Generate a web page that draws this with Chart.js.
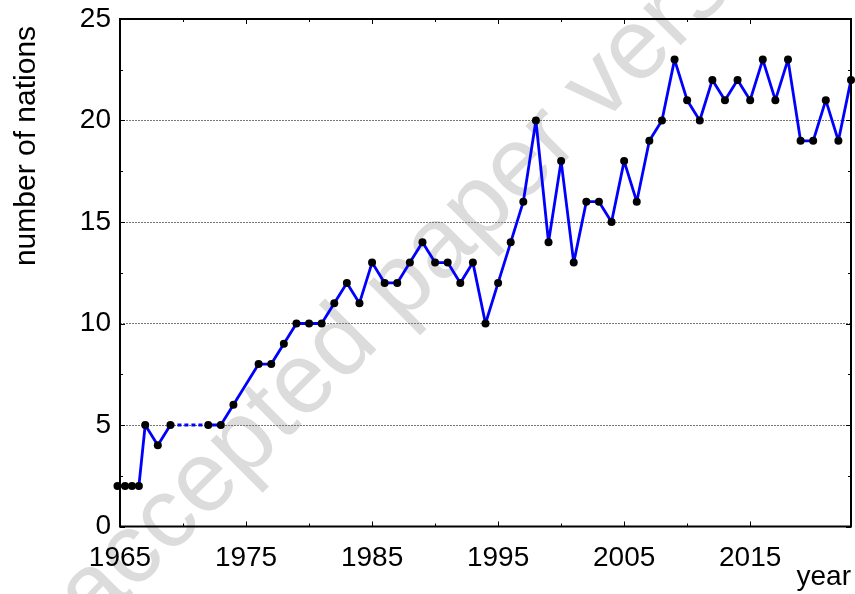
<!DOCTYPE html>
<html>
<head>
<meta charset="utf-8">
<script src="https://cdn.jsdelivr.net/npm/chart.js@4/dist/chart.umd.min.js"></script>
<style>
  html, body { margin: 0; padding: 0; background: #fff; }
  #wrap { width: 855px; height: 594px; }
</style>
</head>
<body>
<div id="wrap"><canvas id="chart" width="855" height="594"></canvas></div>
<script>
// data
const years = [1964.8, 1965.4, 1965.95, 1966.5, 1967, 1968, 1969, 1972, 1973, 1974,
  1976, 1977, 1978, 1979, 1980, 1981, 1982, 1983, 1984, 1985, 1986, 1987, 1988, 1989,
  1990, 1991, 1992, 1993, 1994, 1995, 1996, 1997, 1998, 1999, 2000, 2001, 2002, 2003,
  2004, 2005, 2006, 2007, 2008, 2009, 2010, 2011, 2012, 2013, 2014, 2015, 2016, 2017,
  2018, 2019, 2020, 2021, 2022, 2023];
const nations = [2, 2, 2, 2, 5, 4, 5, 5, 5, 6,
  8, 8, 9, 10, 10, 10, 11, 12, 11, 13, 12, 12, 13, 14,
  13, 13, 12, 13, 10, 12, 14, 16, 20, 14, 18, 13, 16, 16,
  15, 18, 16, 19, 20, 23, 21, 20, 22, 21, 22, 21, 23, 21,
  23, 19, 19, 21, 19, 22];
const xLabelYears = [1965, 1975, 1985, 1995, 2005, 2015];
const yLabels = [0, 5, 10, 15, 20, 25];

const FONT = "'Liberation Sans', Arial, sans-serif";

const frame = {
  id: 'frame',
  beforeDraw(chart) {
    const c = chart.ctx;
    c.save();
    c.translate(94, 632);
    c.rotate(-45 * Math.PI / 180);
    c.font = '100px ' + FONT;
    c.fillStyle = '#dcdcdc';
    c.fillText('accepted paper version', 0, 0);
    c.restore();
  },
  afterDraw(chart) {
    const c = chart.ctx;
    const a = chart.chartArea;
    const xs = chart.scales.x, ys = chart.scales.y;
    c.save();
    c.strokeStyle = '#000';
    c.lineWidth = 1;
    // inward ticks
    c.beginPath();
    xs.ticks.forEach(t => {
      const px = Math.round(xs.getPixelForValue(t.value)) + 0.5;
      const len = (t.value - 1965) % 10 === 0 ? 5 : 3;
      c.moveTo(px, a.bottom); c.lineTo(px, a.bottom - len);
      c.moveTo(px, a.top); c.lineTo(px, a.top + len);
    });
    ys.ticks.forEach(t => {
      const py = Math.round(ys.getPixelForValue(t.value)) + 0.5;
      const len = t.value % 5 === 0 ? 5 : 3;
      c.moveTo(a.left, py); c.lineTo(a.left + len, py);
      c.moveTo(a.right, py); c.lineTo(a.right - len, py);
    });
    c.stroke();
    c.lineWidth = 2;
    c.strokeRect(a.left, a.top, a.right - a.left, a.bottom - a.top);
    // axis titles
    c.fillStyle = '#000';
    c.font = '28px ' + FONT;
    c.textAlign = 'right';
    c.textBaseline = 'alphabetic';
    c.fillText('year', a.right, 585);
    c.font = '30px ' + FONT;
    c.translate(35, 146);
    c.rotate(-Math.PI / 2);
    c.textAlign = 'center';
    c.fillText('number of nations', 0, 0);
    c.restore();
  }
};

new Chart(document.getElementById('chart'), {
  type: 'line',
  data: {
    datasets: [{
      data: years.map((y, i) => ({ x: y, y: nations[i] })),
      borderColor: '#0000ff',
      borderWidth: 2.8,
      borderJoinStyle: 'round',
      pointRadius: 4,
      pointBackgroundColor: '#000',
      pointBorderWidth: 0,
      tension: 0,
      clip: false,
      segment: {
        borderDash: ctx => (ctx.p1.parsed.x - ctx.p0.parsed.x > 2 ? [4, 3] : undefined)
      }
    }]
  },
  options: {
    responsive: false,
    animation: false,
    layout: { padding: { top: 19, right: 3, left: 0, bottom: 0 } },
    plugins: { legend: { display: false }, tooltip: { enabled: false } },
    scales: {
      x: {
        type: 'linear',
        min: 1965,
        max: 2023,
        afterBuildTicks: s => { s.ticks = s.ticks.filter(t => (t.value - 1965) % 5 === 0); },
        afterFit: s => { s.height = 67.5; s.paddingLeft = 0; s.paddingRight = 0; },
        ticks: {
          stepSize: 5,
          autoSkip: false,
          maxRotation: 0,
          padding: 15,
          color: '#000',
          font: { family: FONT, size: 28 },
          callback: v => (xLabelYears.includes(v) ? String(v) : '')
        },
        grid: { display: false, drawTicks: false },
        border: { display: false }
      },
      y: {
        min: 0,
        max: 25,
        afterFit: s => { s.width = 120; s.paddingTop = 0; s.paddingBottom = 0; },
        ticks: {
          stepSize: 2.5,
          autoSkip: false,
          padding: 9,
          color: '#000',
          font: { family: FONT, size: 28 },
          callback: v => (yLabels.includes(v) ? String(v) : '')
        },
        grid: {
          drawTicks: false,
          color: ctx => (ctx.tick && ctx.tick.value % 5 === 0 && ctx.tick.value > 0 && ctx.tick.value < 25 ? '#777' : 'rgba(0,0,0,0)'),
          lineWidth: 1
        },
        border: { display: false, dash: [2, 1] }
      }
    }
  },
  plugins: [frame]
});
</script>
</body>
</html>
